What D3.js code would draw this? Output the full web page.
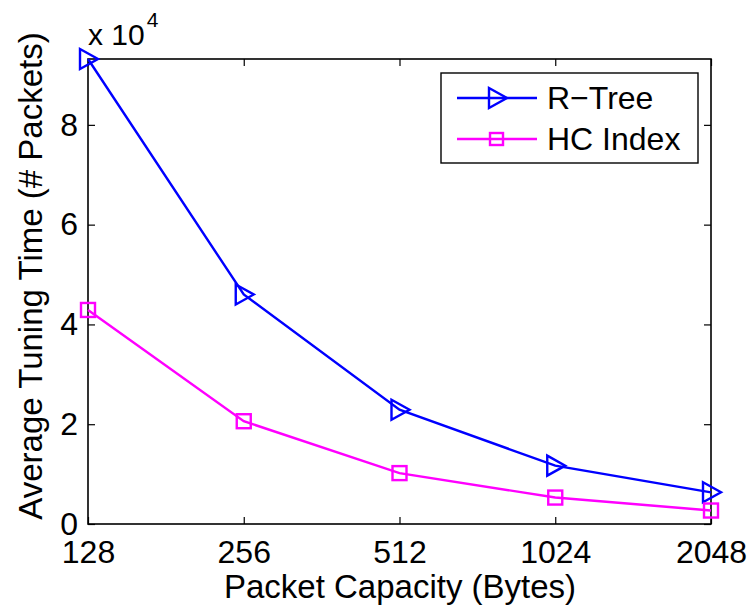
<!DOCTYPE html>
<html><head><meta charset="utf-8">
<script src="https://cdn.jsdelivr.net/npm/d3@7"></script>
<style>body{margin:0;background:#fff}svg{display:block}text{font-family:"Liberation Sans",Arial,sans-serif;fill:#000}</style>
</head><body><svg id="c" width="752" height="612"></svg>
<script>
const categories = ["128","256","512","1024","2048"];
const rtree = [9.32, 4.60, 2.29, 1.17, 0.635];
const hcIndex = [4.29, 2.06, 1.02, 0.53, 0.27];
const yTicks = [0, 2, 4, 6, 8];
const seriesNames = ["R\u2212Tree", "HC Index"];
const seriesColors = ["#0000ff", "#ff00ff"];

const svg = d3.select("#c");
const L = 88, R = 711, T = 59, B = 524;
const x = d3.scalePoint().domain(categories).range([L, R]);
const y = d3.scaleLinear().domain([0, 9.32]).range([B, T]);
const fs = 32;
const lw = 2.4;

// frame
svg.append("rect").attr("x", L).attr("y", T).attr("width", R - L).attr("height", B - T)
  .attr("fill", "none").attr("stroke", "#000").attr("stroke-width", 1.6);

// axes
const xAx = svg.append("g").attr("transform", `translate(0,${B})`)
  .call(d3.axisBottom(x).tickSizeInner(-7).tickSizeOuter(0));
const xAxT = svg.append("g").attr("transform", `translate(0,${T})`)
  .call(d3.axisTop(x).tickSizeInner(-7).tickSizeOuter(0).tickFormat(""));
const yAx = svg.append("g").attr("transform", `translate(${L},0)`)
  .call(d3.axisLeft(y).tickValues(yTicks).tickSizeInner(-7).tickSizeOuter(0).tickFormat(d3.format("d")));
const yAxR = svg.append("g").attr("transform", `translate(${R},0)`)
  .call(d3.axisRight(y).tickValues(yTicks).tickSizeInner(-7).tickSizeOuter(0).tickFormat(""));
[xAx, xAxT, yAx, yAxR].forEach(g => {
  g.select(".domain").remove();
  g.selectAll("line").attr("stroke", "#000").attr("stroke-width", 1.2);
  g.selectAll("text").attr("font-size", fs).attr("font-family", '"Liberation Sans",Arial,sans-serif').attr("fill", "#000");
});
xAx.selectAll("text").attr("y", 39).attr("dy", 0);
yAx.selectAll("text").attr("x", -10).attr("dy", "0.32em");

// multiplier label
const mt = svg.append("text").attr("x", L).attr("y", 45).attr("font-size", 30);
mt.append("tspan").text("x 10");
mt.append("tspan").attr("dy", -18).attr("dx", 2).attr("font-size", 21).text("4");

// axis titles
svg.append("text").attr("x", 400).attr("y", 598).attr("text-anchor", "middle")
  .attr("font-size", 33).text("Packet Capacity (Bytes)");
svg.append("text").attr("transform", `translate(42,276) rotate(-90)`)
  .attr("text-anchor", "middle").attr("font-size", 33).text("Average Tuning Time (# Packets)");

// marker helpers
function tri(g, cx, cy, col) {
  g.append("path").attr("d", `M${cx - 8},${cy - 10}L${cx + 10},${cy}L${cx - 8},${cy + 10}Z`)
    .attr("fill", "none").attr("stroke", col).attr("stroke-width", lw);
}
function sq(g, cx, cy, col) {
  g.append("rect").attr("x", cx - 7).attr("y", cy - 7).attr("width", 14).attr("height", 14)
    .attr("fill", "none").attr("stroke", col).attr("stroke-width", lw);
}
const line = d3.line().x((d, i) => x(categories[i])).y(d => y(d));
const data = [rtree, hcIndex];
const markers = [tri, sq];
data.forEach((s, k) => {
  svg.append("path").attr("d", line(s)).attr("fill", "none")
    .attr("stroke", seriesColors[k]).attr("stroke-width", lw);
  const g = svg.append("g");
  s.forEach((v, i) => markers[k](g, x(categories[i]), y(v), seriesColors[k]));
});

// legend
svg.append("rect").attr("x", 441).attr("y", 73).attr("width", 257).attr("height", 90)
  .attr("fill", "#fff").attr("stroke", "#000").attr("stroke-width", 1.4);
const rows = [98, 139];
rows.forEach((ry, k) => {
  svg.append("line").attr("x1", 457).attr("x2", 537).attr("y1", ry).attr("y2", ry)
    .attr("stroke", seriesColors[k]).attr("stroke-width", lw);
  const g = svg.append("g");
  if (k === 0) tri(g, 497, ry, seriesColors[k]); else {
    g.append("rect").attr("x", 490).attr("y", ry - 6).attr("width", 13).attr("height", 12)
      .attr("fill", "none").attr("stroke", seriesColors[k]).attr("stroke-width", lw);
  }
  svg.append("text").attr("x", 547).attr("y", ry + 11).attr("font-size", fs).text(seriesNames[k]);
});
</script></body></html>
